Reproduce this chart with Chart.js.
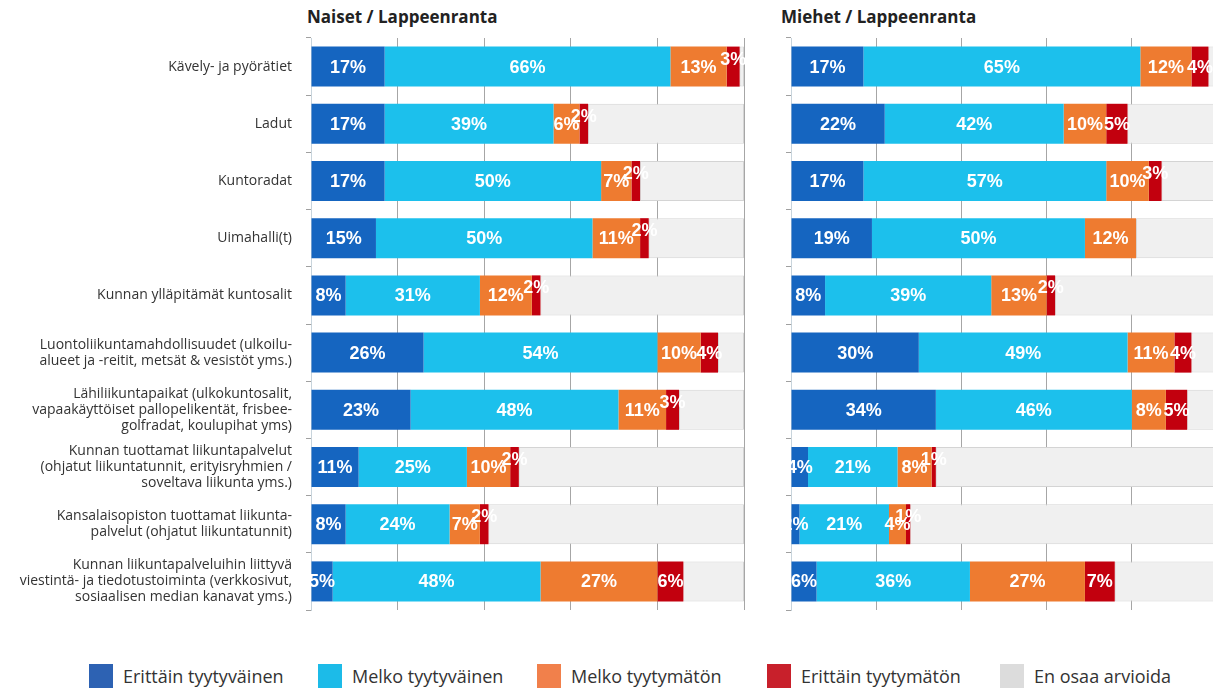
<!DOCTYPE html>
<html lang="fi">
<head>
<meta charset="utf-8">
<script src="https://cdn.jsdelivr.net/npm/chart.js@4.4.1/dist/chart.umd.min.js"></script>
<style>
    html, body { margin: 0; padding: 0; background: #fff; overflow: hidden; }
    body { width: 1213px; height: 691px; position: relative; font-family: 'Open Sans', sans-serif; }
    .panel { position: absolute; top: 0; height: 620px; }
    #leftPanel { left: 0; width: 760px; }
    #rightPanel { left: 780px; width: 440px; }
    .title { position: absolute; top: 5px; font-weight: 700; font-size: 17px; color: #222; }
    .legend-item { position: absolute; top: 664px; height: 24px; display: flex; align-items: center; font-size: 18px; color: #333; }
    .legend-box { width: 24px; height: 24px; margin-right: 10px; }
</style>
</head>
<body>
<div class="title" style="left: 307px;">Naiset / Lappeenranta</div>
<div class="title" style="left: 781px;">Miehet / Lappeenranta</div>
<div class="panel" id="leftPanel"><canvas id="naisetChart"></canvas></div>
<div class="panel" id="rightPanel"><canvas id="miehetChart"></canvas></div>
<div id="legend"></div>

<script>
const categories = [
    'Kävely- ja pyörätiet',
    'Ladut',
    'Kuntoradat',
    'Uimahalli(t)',
    'Kunnan ylläpitämät kuntosalit',
    ['Luontoliikuntamahdollisuudet (ulkoilu-', 'alueet ja -reitit, metsät & vesistöt yms.)'],
    ['Lähiliikuntapaikat (ulkokuntosalit,', 'vapaakäyttöiset pallopelikentät, frisbee-', 'golfradat, koulupihat yms)'],
    ['Kunnan tuottamat liikuntapalvelut', '(ohjatut liikuntatunnit, erityisryhmien /', 'soveltava liikunta yms.)'],
    ['Kansalaisopiston tuottamat liikunta-', 'palvelut (ohjatut liikuntatunnit)'],
    ['Kunnan liikuntapalveluihin liittyvä', 'viestintä- ja tiedotustoiminta (verkkosivut,', 'sosiaalisen median kanavat yms.)']
];

const seriesNames = ['Erittäin tyytyväinen', 'Melko tyytyväinen', 'Melko tyytymätön', 'Erittäin tyytymätön', 'En osaa arvioida'];

// Naiset / Lappeenranta
const naisetErittainTyytyvainen = [17, 17, 17, 15, 8, 26, 23, 11, 8, 5];
const naisetMelkoTyytyvainen    = [66, 39, 50, 50, 31, 54, 48, 25, 24, 48];
const naisetMelkoTyytymaton     = [13, 6, 7, 11, 12, 10, 11, 10, 7, 27];
const naisetErittainTyytymaton  = [3, 2, 2, 2, 2, 4, 3, 2, 2, 6];
const naisetEnOsaa              = [1, 36, 24, 22, 47, 6, 15, 52, 59, 14];

// Miehet / Lappeenranta
const miehetErittainTyytyvainen = [17, 22, 17, 19, 8, 30, 34, 4, 2, 6];
const miehetMelkoTyytyvainen    = [65, 42, 57, 50, 39, 49, 46, 21, 21, 36];
const miehetMelkoTyytymaton     = [12, 10, 10, 12, 13, 11, 8, 8, 4, 27];
const miehetErittainTyytymaton  = [4, 5, 3, 0, 2, 4, 5, 1, 1, 7];
const miehetEnOsaa              = [2, 21, 13, 19, 38, 6, 7, 66, 72, 24];

const xTicks = [0, 20, 40, 60, 80, 100];

const colors = ['#1565c0', '#1cc0ec', '#ee7b30', '#c2000e', '#f0f0f0'];
const legendColors = ['#2d62b3', '#1cbbe8', '#f1804b', '#c8202b', '#dcdcdc'];
const legendLeft = [89, 318, 537, 767, 1000];

// white % labels in the coloured segments, small red ones lifted a bit
const segmentLabels = {
    id: 'segmentLabels',
    afterDatasetsDraw(chart) {
        const ctx = chart.ctx;
        ctx.save();
        ctx.font = 'bold 18px "Liberation Sans", Arial, sans-serif';
        ctx.fillStyle = '#fff';
        ctx.textAlign = 'center';
        ctx.textBaseline = 'middle';
        chart.data.datasets.forEach((ds, di) => {
            if (di > 3) return;
            const meta = chart.getDatasetMeta(di);
            meta.data.forEach((bar, i) => {
                const v = ds.data[i];
                if (!v) return;
                const { x, base, y } = bar.getProps(['x', 'base', 'y'], true);
                const lift = (di === 3 && v <= 3) ? 8 : 0;
                ctx.fillText(v + '%', (x + base) / 2, y + 1 - lift);
            });
        });
        ctx.restore();
    }
};

function buildDatasets(values) {
    return values.map((data, i) => ({
        label: seriesNames[i],
        data: data,
        backgroundColor: colors[i],
        borderColor: i === 4 ? '#d4d4d4' : colors[i],
        borderWidth: i === 4 ? 1 : 0,
        borderSkipped: false,
        barPercentage: 0.7,
        categoryPercentage: 1
    }));
}

function makeChart(canvasId, values, showLabels, axisWidth, padRight) {
    const ctx = document.getElementById(canvasId).getContext('2d');
    return new Chart(ctx, {
        type: 'bar',
        data: {
            labels: categories,
            datasets: buildDatasets(values)
        },
        options: {
            indexAxis: 'y',
            responsive: true,
            maintainAspectRatio: false,
            animation: false,
            layout: { padding: { top: 38, bottom: 10, right: padRight, left: 0 } },
            plugins: {
                legend: { display: false },
                tooltip: { enabled: false }
            },
            scales: {
                x: {
                    stacked: true,
                    min: 0,
                    max: 100,
                    afterBuildTicks: (s) => { s.ticks = xTicks.map(v => ({ value: v })); },
                    ticks: { display: false },
                    grid: { color: '#a6a6a6', lineWidth: 1, drawTicks: false },
                    border: { display: false },
                    afterFit: (s) => { s.height = 0; s.paddingLeft = 0; s.paddingRight = 0; }
                },
                y: {
                    stacked: true,
                    grid: { drawOnChartArea: false, drawTicks: true, tickLength: 5, color: '#a0a0a0', offset: true },
                    border: { display: true, color: '#c8d4dc' },
                    ticks: {
                        display: showLabels,
                        padding: 14,
                        color: '#333',
                        font: { family: "'Open Sans', sans-serif", size: 14, lineHeight: '16px' }
                    },
                    afterFit: (s) => { s.width = axisWidth; s.paddingTop = 0; s.paddingBottom = 0; }
                }
            }
        },
        plugins: [segmentLabels]
    });
}

function buildLegend() {
    const holder = document.getElementById('legend');
    seriesNames.forEach((name, i) => {
        const item = document.createElement('div');
        item.className = 'legend-item';
        item.style.left = legendLeft[i] + 'px';
        const box = document.createElement('span');
        box.className = 'legend-box';
        box.style.background = legendColors[i];
        const text = document.createElement('span');
        text.textContent = name;
        item.appendChild(box);
        item.appendChild(text);
        holder.appendChild(item);
    });
}

makeChart('naisetChart',
    [naisetErittainTyytyvainen, naisetMelkoTyytyvainen, naisetMelkoTyytymaton, naisetErittainTyytymaton, naisetEnOsaa],
    true, 311, 16);
makeChart('miehetChart',
    [miehetErittainTyytyvainen, miehetMelkoTyytyvainen, miehetMelkoTyytymaton, miehetErittainTyytymaton, miehetEnOsaa],
    false, 11, 3);
buildLegend();
</script>
</body>
</html>
